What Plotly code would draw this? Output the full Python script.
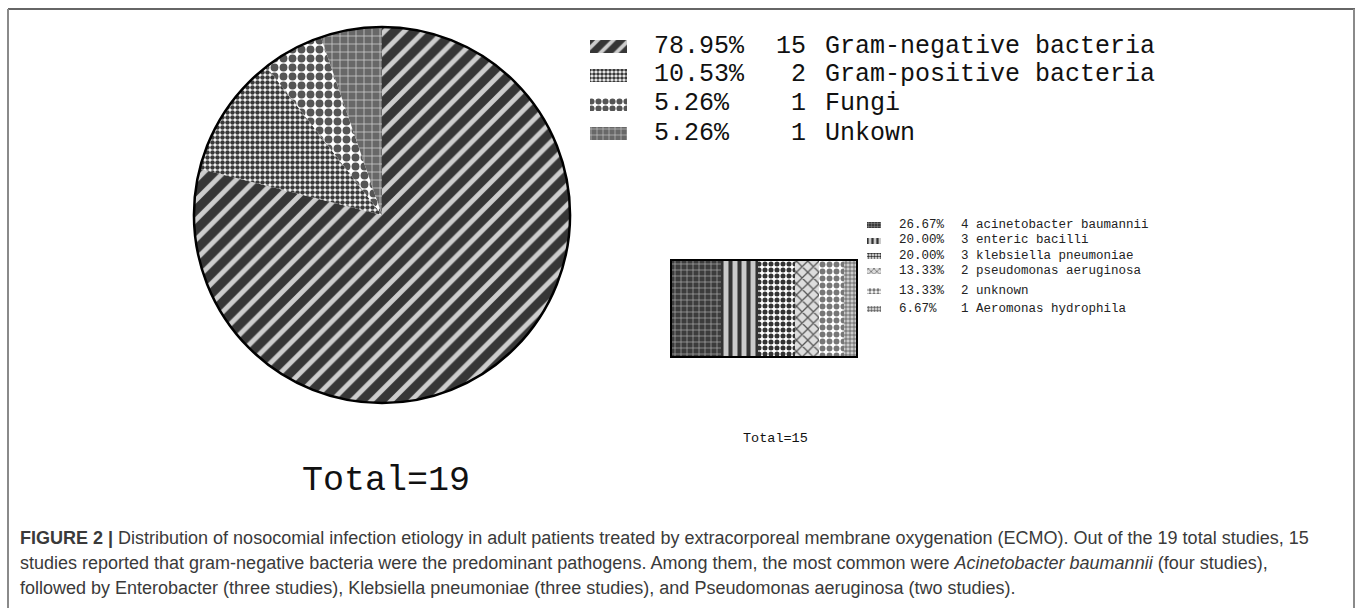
import plotly.graph_objects as go

W, H = 1357, 608

# ---- data -------------------------------------------------------------
pie_labels = ["Gram-negative bacteria", "Gram-positive bacteria", "Fungi", "Unkown"]
pie_counts = [15, 2, 1, 1]
pie_pcts = ["78.95%", "10.53%", "5.26%", "5.26%"]

gn_labels = ["acinetobacter baumannii", "enteric bacilli", "klebsiella pneumoniae",
             "pseudomonas aeruginosa", "unknown", "Aeromonas hydrophila"]
gn_counts = [4, 3, 3, 2, 2, 1]
gn_pcts = ["26.67%", "20.00%", "20.00%", "13.33%", "13.33%", "6.67%"]

# ---- fill patterns ----------------------------------------------------
pie_patterns = [
    dict(shape="/", bgcolor="#363636", fgcolor="#cdcdcd", size=14, solidity=0.35, fillmode="replace"),
    dict(shape=".", bgcolor="#ffffff", fgcolor="#3a3a3a", size=5, solidity=0.65, fillmode="replace"),
    dict(shape=".", bgcolor="#ffffff", fgcolor="#555555", size=9, solidity=0.6, fillmode="replace"),
    dict(shape="+", bgcolor="#686868", fgcolor="#cfcfcf", size=8, solidity=0.18, fillmode="replace"),
]
bar_patterns = [
    dict(shape="+", bgcolor="#3c3c3c", fgcolor="#b4b4b4", size=6, solidity=0.2, fillmode="replace"),
    dict(shape="|", bgcolor="#cacaca", fgcolor="#333333", size=9, solidity=0.45, fillmode="replace"),
    dict(shape=".", bgcolor="#ffffff", fgcolor="#333333", size=6, solidity=0.55, fillmode="replace"),
    dict(shape="x", bgcolor="#dddddd", fgcolor="#555555", size=8, solidity=0.3, fillmode="replace"),
    dict(shape=".", bgcolor="#ffffff", fgcolor="#777777", size=7, solidity=0.55, fillmode="replace"),
    dict(shape="+", bgcolor="#cccccc", fgcolor="#444444", size=4, solidity=0.3, fillmode="replace"),
]

MONO = "Liberation Mono"

def px(x):
    return x / W

def py(y):
    return 1 - y / H

fig = go.Figure()

# ---- main pie ---------------------------------------------------------
cx, cy, r = 382, 215, 188
pie_dom = dict(x=[px(cx - r), px(cx + r)], y=[py(cy + r), py(cy - r)])
fig.add_trace(go.Pie(
    labels=pie_labels, values=pie_counts, sort=False, direction="clockwise",
    rotation=0, textinfo="none", hoverinfo="label+value+percent", showlegend=False,
    domain=pie_dom,
    marker=dict(colors=[p["bgcolor"] for p in pie_patterns],
                pattern=dict(shape=[p["shape"] for p in pie_patterns],
                             bgcolor=[p["bgcolor"] for p in pie_patterns],
                             fgcolor=[p["fgcolor"] for p in pie_patterns],
                             size=[p["size"] for p in pie_patterns],
                             solidity=[p["solidity"] for p in pie_patterns],
                             fillmode="replace"),
                line=dict(width=0)),
))
# outer rim
fig.add_trace(go.Pie(
    values=[1], sort=False, textinfo="none", hoverinfo="skip", showlegend=False,
    domain=pie_dom,
    marker=dict(colors=["rgba(0,0,0,0)"], line=dict(color="#000000", width=2.5)),
))

# ---- stacked bar of gram-negative species -----------------------------
base = 0
for lab, val, pat in zip(gn_labels, gn_counts, bar_patterns):
    fig.add_trace(go.Bar(
        x=[val], y=[0], base=[base], orientation="h", name=lab,
        marker=dict(color=pat["bgcolor"], pattern=pat, line=dict(width=0)),
        width=1, showlegend=False, xaxis="x", yaxis="y",
        hovertemplate=lab + ": %{x}<extra></extra>",
    ))
    base += val

# ---- legend swatches (pixel-space axes) -------------------------------
big_rows = [46, 75, 104, 133]
for yrow, pat in zip(big_rows, pie_patterns):
    sp = dict(pat)
    sp["size"] = max(4, int(pat["size"] * 0.8))
    fig.add_trace(go.Bar(
        x=[37], y=[yrow], base=[590], orientation="h", width=13,
        marker=dict(color=pat["bgcolor"], pattern=sp, line=dict(width=0)),
        showlegend=False, hoverinfo="skip", xaxis="x2", yaxis="y2",
    ))
small_rows = [225, 240.5, 256, 271, 291, 309]
for yrow, pat in zip(small_rows, bar_patterns):
    sp = dict(pat)
    sp["size"] = max(3, int(pat["size"] * 0.6))
    fig.add_trace(go.Bar(
        x=[14], y=[yrow], base=[867], orientation="h", width=6,
        marker=dict(color=pat["bgcolor"], pattern=sp, line=dict(width=0)),
        showlegend=False, hoverinfo="skip", xaxis="x2", yaxis="y2",
    ))

ann = []
# big legend text
for yrow, pct, cnt, lab in zip(big_rows, pie_pcts, pie_counts, pie_labels):
    ann.append(dict(x=px(652), y=py(yrow), text=pct, xanchor="left"))
    ann.append(dict(x=px(808), y=py(yrow), text=str(cnt), xanchor="right"))
    ann.append(dict(x=px(823), y=py(yrow), text=lab, xanchor="left"))
for a in ann:
    a.update(xref="paper", yref="paper", yanchor="middle", showarrow=False,
             font=dict(family=MONO, size=25, color="#111111"))

small = []
for yrow, pct, cnt, lab in zip(small_rows, gn_pcts, gn_counts, gn_labels):
    small.append(dict(x=px(897), y=py(yrow), text=pct, xanchor="left"))
    small.append(dict(x=px(959), y=py(yrow), text=f"{cnt} {lab}", xanchor="left"))
for a in small:
    a.update(xref="paper", yref="paper", yanchor="middle", showarrow=False,
             font=dict(family=MONO, size=12.5, color="#222222"))
ann += small

ann.append(dict(x=px(775), y=py(438), text="Total=" + str(sum(gn_counts)),
                xref="paper", yref="paper", showarrow=False, xanchor="center",
                yanchor="middle", font=dict(family=MONO, size=13.5, color="#111111")))
ann.append(dict(x=px(386), y=py(481), text="Total=" + str(sum(pie_counts)),
                xref="paper", yref="paper", showarrow=False, xanchor="center",
                yanchor="middle", font=dict(family=MONO, size=35, color="#111111")))

caption = [
    "<b>FIGURE 2 |</b> Distribution of nosocomial infection etiology in adult patients treated by "
    "extracorporeal membrane oxygenation (ECMO). Out of the 19 total studies, 15",
    "studies reported that gram-negative bacteria were the predominant pathogens. Among them, the most "
    "common were <i>Acinetobacter baumannii</i> (four studies),",
    "followed by Enterobacter (three studies), Klebsiella pneumoniae (three studies), and Pseudomonas "
    "aeruginosa (two studies).",
]
for i, line in enumerate(caption):
    ann.append(dict(x=px(18), y=py(538 + 25 * i), text=line, xanchor="left", yanchor="middle",
                    xref="paper", yref="paper", showarrow=False,
                    font=dict(family="Liberation Sans", size=18, color="#3a3a3a")))

# frame around the figure panel
shapes = [
    dict(type="line", xref="paper", yref="paper", x0=px(8), x1=px(1355), y0=py(9), y1=py(9),
         line=dict(color="#333333", width=1.5)),
    dict(type="line", xref="paper", yref="paper", x0=px(8), x1=px(8), y0=py(9), y1=0,
         line=dict(color="#8a8a8a", width=2)),
    dict(type="line", xref="paper", yref="paper", x0=px(1354), x1=px(1354), y0=py(9), y1=0,
         line=dict(color="#8a8a8a", width=2)),
]

fig.update_layout(
    width=W, height=H, margin=dict(l=0, r=0, t=0, b=0),
    paper_bgcolor="white", plot_bgcolor="rgba(0,0,0,0)",
    barmode="overlay", bargap=0,
    annotations=ann, shapes=shapes, showlegend=False,
    xaxis=dict(domain=[px(672), px(856)], range=[0, sum(gn_counts)], showticklabels=False,
               ticks="", showgrid=False, zeroline=False, showline=True, mirror=True,
               linecolor="#000000", linewidth=2),
    yaxis=dict(domain=[py(356), py(261)], range=[-0.5, 0.5], showticklabels=False,
               ticks="", showgrid=False, zeroline=False, showline=True, mirror=True,
               linecolor="#000000", linewidth=2),
    xaxis2=dict(domain=[0, 1], range=[0, W], visible=False, anchor="y2"),
    yaxis2=dict(domain=[0, 1], range=[H, 0], visible=False, anchor="x2"),
)

fig.write_html("out.html")
